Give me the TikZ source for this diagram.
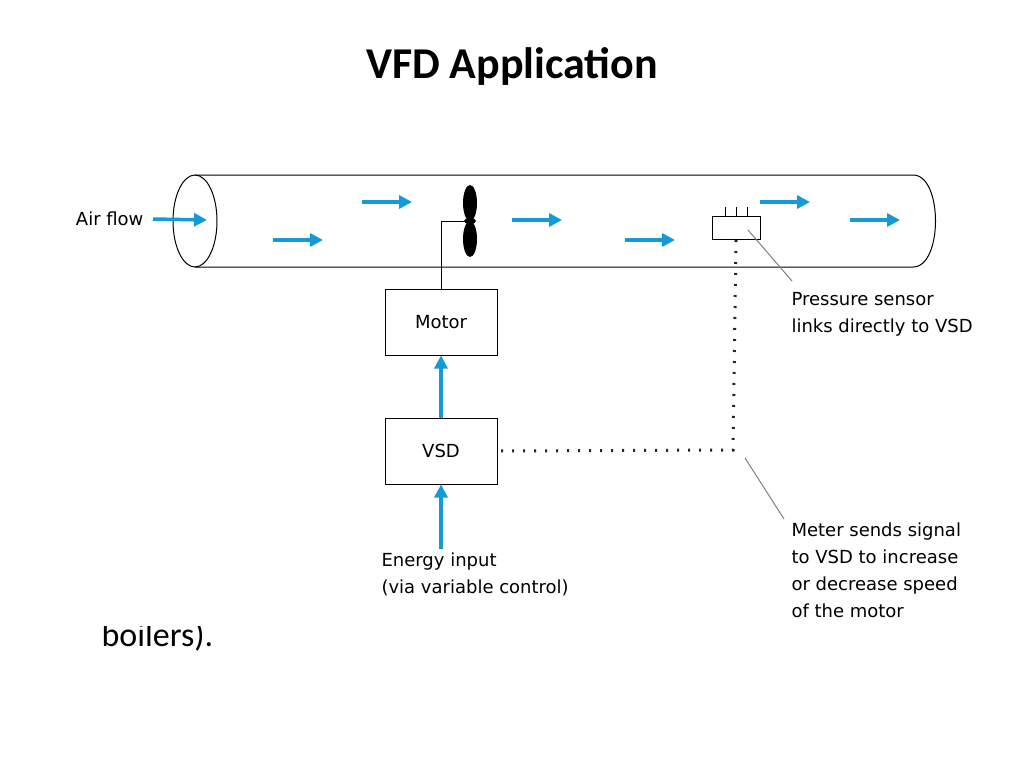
\documentclass[tikz,border=0pt]{standalone}
\usepackage{fontspec}
\setmainfont{DejaVu Sans}
\newfontfamily\titlefont{Carlito}
\usetikzlibrary{arrows.meta}
\begin{document}
\begin{tikzpicture}[x=1pt, y=-1pt,
                every node/.style={font=\fontsize{18}{27}\selectfont},
                box/.style={draw, line width=1pt, minimum width=112pt, minimum height=66pt, inner sep=0pt},
                flow/.style={line width=3.5pt, draw={rgb,255:red,20;green,155;blue,215}, -{Triangle[length=13pt,width=13pt]}},
                signal/.style={line width=3pt, dash pattern=on 2pt off 9pt, draw=black!85},
                leader/.style={draw=gray, line width=1pt}]
\useasboundingbox (0,0) rectangle (1024,768);
\fill[white] (0,0) rectangle (1024,768);

% slide text behind the figure
\node[font=\titlefont\fontsize{34}{40}\selectfont, anchor=west] (bt) at (98,636) {boilers).};
\fill[white] (40,130) rectangle (1010,626);
\node[font=\titlefont\bfseries\fontsize{44}{50}\selectfont] (title) at (512,66) {VFD Application};

% pipe
\draw[line width=1pt] (195,175) -- (913,175) .. controls (943,175) and (943,267) .. (913,267) -- (195,267);
\draw[line width=1pt] (195,221) ellipse[x radius=22, y radius=46];

% fan
\coordinate (hub) at (470,221);
\fill (hub) ellipse[x radius=6, y radius=3];
\fill (470,203) ellipse[x radius=7, y radius=18];
\fill (470,239) ellipse[x radius=7, y radius=18];

\node[box] (motor) at (441,322) {Motor};
\node[box] (vsd) at (441,451) {VSD};
\draw[line width=1pt] (hub) -| (motor.north);

% sensor
\node[draw, line width=1pt, minimum width=48pt, minimum height=23pt, inner sep=0pt] (sensor) at (736,228) {};
\foreach \x in {-11,0,11}
  \draw[line width=1pt] ([xshift=\x pt]sensor.north) -- ++(0,-9);

% air flow arrows
\node[anchor=east] (air) at (147,219) {Air flow};
\coordinate (a0) at (207,220);
\draw[flow] ([xshift=6pt]air.east) -- (a0);
\foreach \x/\y in {273/240, 362/202, 512/220, 625/240, 760/202, 850/220}
  \draw[flow] (\x,\y) -- ++(50,0);

\draw[flow] (vsd.north) -- (motor.south);
\node[anchor=north west, align=left] (energy) at (378,549) {Energy input\\(via variable control)};
\draw[flow] (energy.north -| vsd) -- (vsd.south);

% signal line
\coordinate (corner) at (733,450);
\draw[signal] (sensor.south) -- (corner) -- (vsd.east);

% labels
\node[anchor=north west, align=left] (plabel) at (788,289) {Pressure sensor\\links directly to VSD};
\node[anchor=north west, align=left] (mlabel) at (788,519) {Meter sends signal\\to VSD to increase\\or decrease speed\\of the motor};
\draw[leader] (sensor.center) ++(12,2) coordinate (s1) -- ([xshift=4pt,yshift=8pt]plabel.north west);
\draw[leader] (corner) ++(12,8) coordinate (c1) -- ([xshift=-4pt,yshift=0pt]mlabel.north west);
\end{tikzpicture}
\end{document}
